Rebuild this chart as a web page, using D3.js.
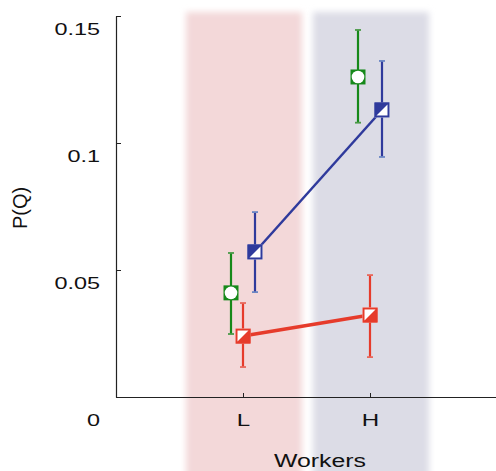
<!DOCTYPE html>
<html>
<head>
<meta charset="utf-8">
<script src="https://cdn.jsdelivr.net/npm/d3@7"></script>
<style>
  body { margin: 0; background: #fff; }
  svg { display: block; font-family: "Liberation Sans", Arial, sans-serif; }
</style>
</head>
<body>
<svg id="chart" width="496" height="471"></svg>
<script>
// categories on the x axis
var categories = ["L", "H"];
var catPos = [1, 2];

// series: mean, lower and upper end of the error bar
var seriesNames = ["green", "red", "blue"];
var greenMean = [0.041, 0.126], greenLo = [0.0248, 0.108], greenHi = [0.0567, 0.1445];
var redMean = [0.024, 0.0323], redLo = [0.0118, 0.0157], redHi = [0.037, 0.048];
var blueMean = [0.0571, 0.113], blueLo = [0.0413, 0.0945], blueHi = [0.0728, 0.1323];

var yTicks = [0, 0.05, 0.1, 0.15];
var yTickLabels = ["0", "0.05", "0.1", "0.15"];

var colors = { green: "#16891a", red: "#e63b2b", blue: "#2f3a9c" };
var capColors = { green: "#4b9a48", red: "#e8685c", blue: "#6b86c4" };
var bandColors = ["#f3d8d9", "#dcdce6"];

// text in the reference is stretched sideways
var stretch = 1.42;

var svg = d3.select("#chart");

var x = d3.scaleLinear().domain([0, 3]).range([116, 497]);
var y = d3.scaleLinear().domain([0, 0.15]).range([397, 16]);
var dodge = d3.scaleBand().domain(seriesNames).range([-18, 18]);

var series = [
  { name: "green", mean: greenMean, lo: greenLo, hi: greenHi, line: false },
  { name: "red", mean: redMean, lo: redLo, hi: redHi, line: true },
  { name: "blue", mean: blueMean, lo: blueLo, hi: blueHi, line: true }
];

function px(name, i) {
  return x(catPos[i]) + dodge(name) + dodge.bandwidth() / 2;
}

// blurred background bands
var defs = svg.append("defs");
defs.append("filter")
    .attr("id", "soft")
    .attr("x", "-20%").attr("y", "-20%").attr("width", "140%").attr("height", "140%")
  .append("feGaussianBlur")
    .attr("stdDeviation", 3);

var bandWidth = 116;
svg.append("g")
  .selectAll("rect")
  .data(categories)
  .enter()
  .append("rect")
    .attr("x", (d, i) => x(catPos[i]) + 1 - bandWidth / 2)
    .attr("y", 12)
    .attr("width", bandWidth)
    .attr("height", 480)
    .attr("fill", (d, i) => bandColors[i])
    .attr("filter", "url(#soft)");

// y axis
var yAxis = d3.axisLeft(y)
    .tickValues(yTicks)
    .tickSizeInner(-5)
    .tickSizeOuter(0)
    .tickFormat((d, i) => yTickLabels[i]);

var gy = svg.append("g")
    .attr("transform", "translate(116,0)")
    .call(yAxis);
gy.select(".domain").attr("stroke", "#222").attr("stroke-width", 1.2);
gy.selectAll(".tick line").attr("stroke", "#222");
gy.selectAll(".tick text")
    .attr("x", -16 / stretch)
    .attr("dy", d => d == 0 ? "1.7em" : "1.1em")
    .attr("transform", "scale(" + stretch + ",1)")
    .attr("font-size", 16.5)
    .attr("fill", "#111");

// x axis
var xAxis = d3.axisBottom(x)
    .tickValues(catPos)
    .tickSizeInner(-4)
    .tickSizeOuter(0)
    .tickFormat((d, i) => categories[i]);

var gx = svg.append("g")
    .attr("transform", "translate(0,397)")
    .call(xAxis);
gx.select(".domain").attr("stroke", "#222").attr("stroke-width", 1.2);
gx.selectAll(".tick line").attr("stroke", "#222");
gx.selectAll(".tick text")
    .attr("y", 17)
    .attr("transform", "scale(" + stretch + ",1)")
    .attr("font-size", 17)
    .attr("fill", "#111");

// axis titles
svg.append("text")
    .attr("transform", "translate(27,208) rotate(-90)")
    .attr("text-anchor", "middle")
    .attr("font-size", 20)
    .attr("fill", "#111")
    .text("P(Q)");

svg.append("text")
    .attr("transform", "translate(320,467) scale(" + stretch + ",1)")
    .attr("text-anchor", "middle")
    .attr("font-size", 17.5)
    .attr("fill", "#111")
    .text("Workers");

// connecting lines
var line = d3.line();
series.filter(s => s.line).forEach(function(s) {
  svg.append("path")
      .attr("d", line(s.mean.map((v, i) => [px(s.name, i), y(v)])))
      .attr("fill", "none")
      .attr("stroke", colors[s.name])
      .attr("stroke-width", s.name == "red" ? 3.5 : 2.5);
});

// error bars and markers
var size = 15;
series.forEach(function(s) {
  var g = svg.append("g");
  var pts = s.mean.map((v, i) => ({ i: i, v: v, lo: s.lo[i], hi: s.hi[i] }));

  g.selectAll("line.err")
    .data(pts)
    .enter()
    .append("line")
      .attr("class", "err")
      .attr("x1", d => px(s.name, d.i))
      .attr("x2", d => px(s.name, d.i))
      .attr("y1", d => y(d.lo))
      .attr("y2", d => y(d.hi))
      .attr("stroke", colors[s.name])
      .attr("stroke-width", 2.2);

  ["lo", "hi"].forEach(function(k) {
    g.selectAll("line.cap-" + k)
      .data(pts)
      .enter()
      .append("line")
        .attr("x1", d => px(s.name, d.i) - 3)
        .attr("x2", d => px(s.name, d.i) + 3)
        .attr("y1", d => y(d[k]))
        .attr("y2", d => y(d[k]))
        .attr("stroke", capColors[s.name])
        .attr("stroke-width", 1.8);
  });

  var m = g.selectAll("g.marker")
    .data(pts)
    .enter()
    .append("g")
      .attr("transform", d => "translate(" + px(s.name, d.i) + "," + y(d.v) + ")");

  var h = size / 2;
  if (s.name == "green") {
    m.append("rect")
        .attr("x", -h).attr("y", -h).attr("width", size).attr("height", size)
        .attr("fill", colors.green);
    m.append("circle").attr("r", 6.3).attr("fill", "#fff");
  } else {
    m.append("rect")
        .attr("x", -h).attr("y", -h).attr("width", size).attr("height", size)
        .attr("fill", "#fff");
    // blue: filled upper-left half, red: filled lower-right half
    var tri = s.name == "blue"
      ? [[-h, -h], [h, -h], [-h, h]]
      : [[h, -h], [h, h], [-h, h]];
    m.append("path")
        .attr("d", d3.line()(tri) + "Z")
        .attr("fill", colors[s.name]);
    m.append("rect")
        .attr("x", -h + 1).attr("y", -h + 1).attr("width", size - 2).attr("height", size - 2)
        .attr("fill", "none")
        .attr("stroke", colors[s.name])
        .attr("stroke-width", 2);
  }
});
</script>
</body>
</html>
